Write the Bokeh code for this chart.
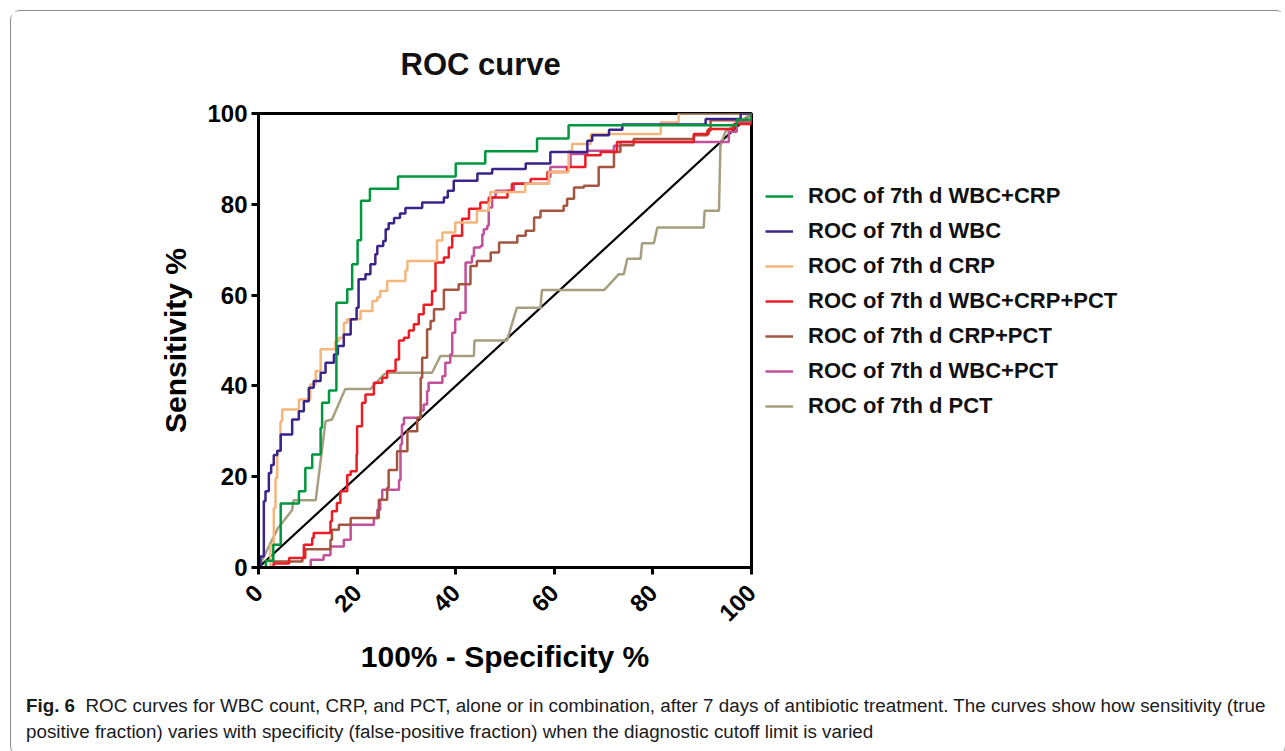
from bokeh.plotting import figure
from bokeh.models import Range1d, Legend, LegendItem, Div
from bokeh.layouts import column, row
from bokeh.embed import file_html
from bokeh.resources import INLINE

# ---------------- data (100% - specificity, sensitivity) ----------------
wbc_crp_x = [0, 1.5, 3.0, 4.5, 8.2, 9.5, 10.9, 12.6, 12.9, 14.3, 15.8, 18.0, 19.0, 20.1, 20.8, 22.6,
             28.3, 40.0, 46.0, 56.5, 62.9, 97.0, 100]
wbc_crp_y = [0, 1.5, 5.0, 14.1, 16.8, 21.9, 24.9, 30.8, 36.3, 39.0, 58.3, 61.3, 66.8, 72.1, 80.8, 83.4,
             86.1, 89.0, 91.7, 94.5, 97.4, 98.6, 100]

wbc_x = [0, 0.4, 1.08, 1.42, 2.1, 2.57, 3.1, 3.8, 4.5, 6.83, 8.18, 9.2, 10.2, 11.2, 12.6, 13.6, 15.3,
         16.1, 17.3, 18.7, 19.9, 20.3, 21.7, 22.7, 23.7, 24.1, 25.3, 25.8, 26.4, 27.5, 28.7, 29.8, 33.2,
         37.6, 38.4, 39.6, 44.4, 47.4, 54.2, 59.2, 66.7, 67.7, 71.1, 73.8, 90.7, 97.8, 100]
wbc_y = [0, 2.4, 14.6, 16.8, 20.8, 22.6, 24.8, 25.7, 29.3, 32.6, 34.4, 36.6, 39.6, 41.1, 42.9, 45.1, 46.9,
         48.8, 51.3, 54.7, 57.2, 63.5, 64.6, 66.8, 69.0, 70.8, 71.9, 74.5, 75.8, 77.0, 78.0, 79.2, 80.4,
         81.5, 83.0, 85.2, 86.8, 87.8, 89.0, 91.5, 94.0, 95.2, 96.4, 97.6, 98.8, 100, 100]

crp_x = [0, 2.43, 3.1, 3.45, 3.8, 4.46, 4.8, 8.2, 10.5, 11.6, 12.6, 15.6, 16.3, 17.3, 18.0, 20.7, 23.1,
         24.1, 24.7, 26.1, 29.8, 30.2, 36.2, 37.3, 39.9, 44.3, 46.7, 47.0, 54.1, 58.9, 62.9, 63.6, 67.4,
         81.6, 85.2, 100]
crp_y = [0, 5.0, 13.1, 19.7, 25.6, 32.2, 34.8, 37.0, 40.3, 43.3, 48.1, 49.9, 50.6, 53.9, 54.7, 56.5, 58.7,
         59.5, 60.9, 63.1, 65.4, 67.5, 72.0, 73.8, 76.0, 78.6, 80.4, 82.7, 84.5, 87.1, 91.7, 93.3, 95.5,
         98.1, 100, 100]

wbc_crp_pct_x = [0, 3.1, 6.2, 9.2, 10.9, 11.2, 14.6, 14.9, 15.9, 16.6, 18.0, 18.7, 19.9, 20.0, 21.0, 21.7,
                 23.4, 25.1, 26.1, 27.8, 28.5, 29.5, 30.5, 31.5, 32.5, 33.5, 35.2, 35.9, 37.6, 38.6, 39.3,
                 41.3, 42.7, 45.0, 46.7, 50.5, 51.4, 55.2, 58.6, 62.6, 66.3, 69.4, 72.7, 88.3, 91.3, 96.4, 100]
wbc_crp_pct_y = [0, 0.9, 2.1, 5.0, 6.5, 7.6, 10.2, 12.4, 14.2, 16.8, 20.4, 21.2, 24.9, 31.1, 36.3, 38.1,
                 40.7, 41.8, 43.3, 45.8, 50.0, 50.6, 52.2, 53.6, 55.8, 57.9, 60.9, 67.2, 68.3, 70.5, 73.1,
                 76.8, 79.0, 80.4, 81.5, 83.0, 84.5, 85.6, 87.1, 88.2, 90.8, 91.5, 93.7, 95.5, 96.6, 97.7, 100]

crp_pct_x = [0, 3.1, 8.9, 9.5, 14.6, 14.9, 16.3, 18.7, 24.4, 26.1, 26.4, 28.1, 30.2, 32.2, 32.9, 33.2,
             34.2, 34.9, 35.6, 37.6, 40.6, 43.0, 44.3, 47.1, 48.8, 52.5, 54.2, 55.9, 57.2, 61.9, 62.6,
             64.0, 66.0, 69.0, 72.1, 73.4, 76.1, 88.3, 91.0, 91.7, 100]
crp_pct_y = [0, 1.3, 2.1, 4.0, 6.1, 8.3, 9.4, 10.9, 14.9, 17.5, 21.5, 25.6, 30.0, 33.0, 41.8, 46.2,
             52.5, 54.3, 56.9, 61.2, 62.4, 66.4, 67.5, 69.4, 71.6, 73.1, 74.2, 77.1, 78.6, 79.7, 81.2,
             83.7, 84.1, 88.2, 91.5, 93.0, 94.4, 95.2, 96.2, 98.5, 100]

wbc_pct_x = [0, 10.6, 13.2, 14.6, 17.3, 18.7, 23.4, 24.1, 24.7, 25.1, 28.5, 28.8, 29.1, 29.5, 32.9, 33.5,
             34.2, 34.5, 37.3, 37.9, 38.9, 39.3, 39.9, 40.9, 42.0, 43.3, 43.7, 45.0, 45.4, 45.7, 46.4,
             46.7, 47.4, 48.1, 51.8, 58.9, 59.2, 63.3, 66.7, 72.1, 73.4, 95.4, 97.0, 100]
wbc_pct_y = [0, 1.7, 2.7, 4.6, 6.1, 9.4, 10.9, 12.7, 14.9, 17.1, 19.3, 27.1, 31.5, 33.0, 34.6, 35.9,
             38.9, 40.7, 42.2, 45.1, 46.9, 51.7, 54.7, 56.1, 67.2, 68.6, 70.5, 70.8, 73.4, 74.5, 75.3,
             79.3, 81.5, 83.0, 84.5, 86.0, 88.2, 91.1, 91.8, 92.9, 93.7, 96.0, 98.0, 100]

pct_x = [0, 3.9, 6.8, 7.1, 11.6, 13.6, 14.9, 17.6, 22.7, 25.4, 26.1, 35.2, 36.9, 43.7, 43.8, 50.4, 52.4,
         57.2, 57.5, 70.1, 73.1, 74.1, 74.8, 77.5, 77.8, 80.2, 80.9, 90.3, 90.5, 93.4, 93.7, 94.7, 100]
pct_y = [0, 8.6, 12.6, 14.8, 14.8, 32.2, 32.6, 39.3, 39.3, 42.5, 42.9, 42.9, 46.6, 46.6, 50.0, 50.0, 57.2,
         57.2, 61.1, 61.1, 64.6, 64.6, 68.0, 68.0, 71.4, 71.4, 74.9, 74.9, 78.6, 78.6, 92.9, 96.0, 100]

ref_x = [0, 100]
ref_y = [0, 100]

labels = ["ROC of 7th d WBC+CRP", "ROC of 7th d WBC", "ROC of 7th d CRP", "ROC of 7th d WBC+CRP+PCT",
          "ROC of 7th d CRP+PCT", "ROC of 7th d WBC+PCT", "ROC of 7th d PCT"]
colors = ["#00973F", "#3A2389", "#F4B67B", "#ED1C24", "#A3553F", "#C2509A", "#A59F7F"]
ticks = [0, 20, 40, 60, 80, 100]

FONT = "Liberation Sans"
H = 677
PW = 754

p = figure(width=PW, height=H, x_range=Range1d(0, 100), y_range=Range1d(0, 100),
           output_backend="svg", toolbar_location=None,
           min_border_left=247, min_border_right=14, min_border_top=102, min_border_bottom=121)

p.title.text = "ROC curve"
p.title.text_font = FONT
p.title.text_font_style = "bold"
p.title.text_font_size = "31px"
p.title.text_color = "#111111"
p.title.align = "left"
p.title.offset = 142
p.title.standoff = 64

p.grid.visible = False
p.outline_line_color = "black"
p.outline_line_width = 3

for ax in (p.xaxis[0], p.yaxis[0]):
    ax.ticker = ticks
    ax.axis_line_width = 3
    ax.axis_line_color = "black"
    ax.major_tick_line_width = 3
    ax.major_tick_line_color = "black"
    ax.major_tick_out = 7
    ax.major_tick_in = 0
    ax.minor_tick_line_color = None
    ax.major_label_text_font = FONT
    ax.major_label_text_font_style = "bold"
    ax.major_label_text_font_size = "24px"
    ax.major_label_text_color = "black"
    ax.axis_label_text_font = FONT
    ax.axis_label_text_font_style = "bold"
    ax.axis_label_text_font_size = "30px"
    ax.axis_label_text_color = "black"

p.xaxis.axis_label = "100% - Specificity %"
p.yaxis.axis_label = "Sensitivity %"
p.xaxis.major_label_orientation = 0.785398
p.xaxis.axis_label_standoff = 8
p.yaxis.axis_label_standoff = 12
p.yaxis.major_label_standoff = 4
p.xaxis.major_label_standoff = 14

p.line(ref_x, ref_y, line_color="black", line_width=2.2)

p.line(pct_x, pct_y, line_color=colors[6], line_width=2.5)
p.step(wbc_pct_x, wbc_pct_y, mode="after", line_color=colors[5], line_width=2.5)
p.step(crp_pct_x, crp_pct_y, mode="after", line_color=colors[4], line_width=2.5)
p.step(wbc_crp_pct_x, wbc_crp_pct_y, mode="after", line_color=colors[3], line_width=2.5)
p.step(crp_x, crp_y, mode="after", line_color=colors[2], line_width=2.5)
p.step(wbc_x, wbc_y, mode="after", line_color=colors[1], line_width=2.5)
p.step(wbc_crp_x, wbc_crp_y, mode="after", line_color=colors[0], line_width=2.5)

# legend panel: a frameless figure beside the chart; its proxy lines lie outside its visible range
lf = figure(width=1274 - PW, height=H, x_range=Range1d(200, 300), y_range=Range1d(200, 300),
            output_backend="svg", toolbar_location=None, min_border=0)
lf.axis.visible = False
lf.grid.visible = False
lf.outline_line_color = None
leg_renderers = [lf.line(ref_x, ref_y, line_color=c, line_width=2.5) for c in colors]
legend = Legend(items=[LegendItem(label=l, renderers=[r]) for l, r in zip(labels, leg_renderers)],
                location=(0, 148), orientation="vertical",
                glyph_width=28, glyph_height=20, label_standoff=15, spacing=9,
                padding=0, margin=0, border_line_color=None, background_fill_alpha=0,
                label_text_font=FONT, label_text_font_style="bold", label_text_font_size="22px",
                label_text_color="#111111", label_text_baseline="middle")
lf.add_layout(legend, "center")

caption = Div(
    text="<b>Fig. 6</b>&nbsp;&nbsp;ROC curves for WBC count, CRP, and PCT, alone or in combination, after 7 days "
         "of antibiotic treatment. The curves show how sensitivity (true<br>positive fraction) varies with "
         "specificity (false-positive fraction) when the diagnostic cutoff limit is varied",
    width=1264, height=57,
    styles={"font-family": "Liberation Sans", "font-size": "18.8px", "line-height": "26px",
            "color": "#1a1a1a", "white-space": "nowrap", "padding-left": "10px"})

layout = column(row(p, lf), caption, margin=(10, 0, 0, 10),
                styles={"border": "1px solid #8c8c8c", "border-radius": "10px"})

open("out.html", "w").write(file_html(layout, INLINE))
